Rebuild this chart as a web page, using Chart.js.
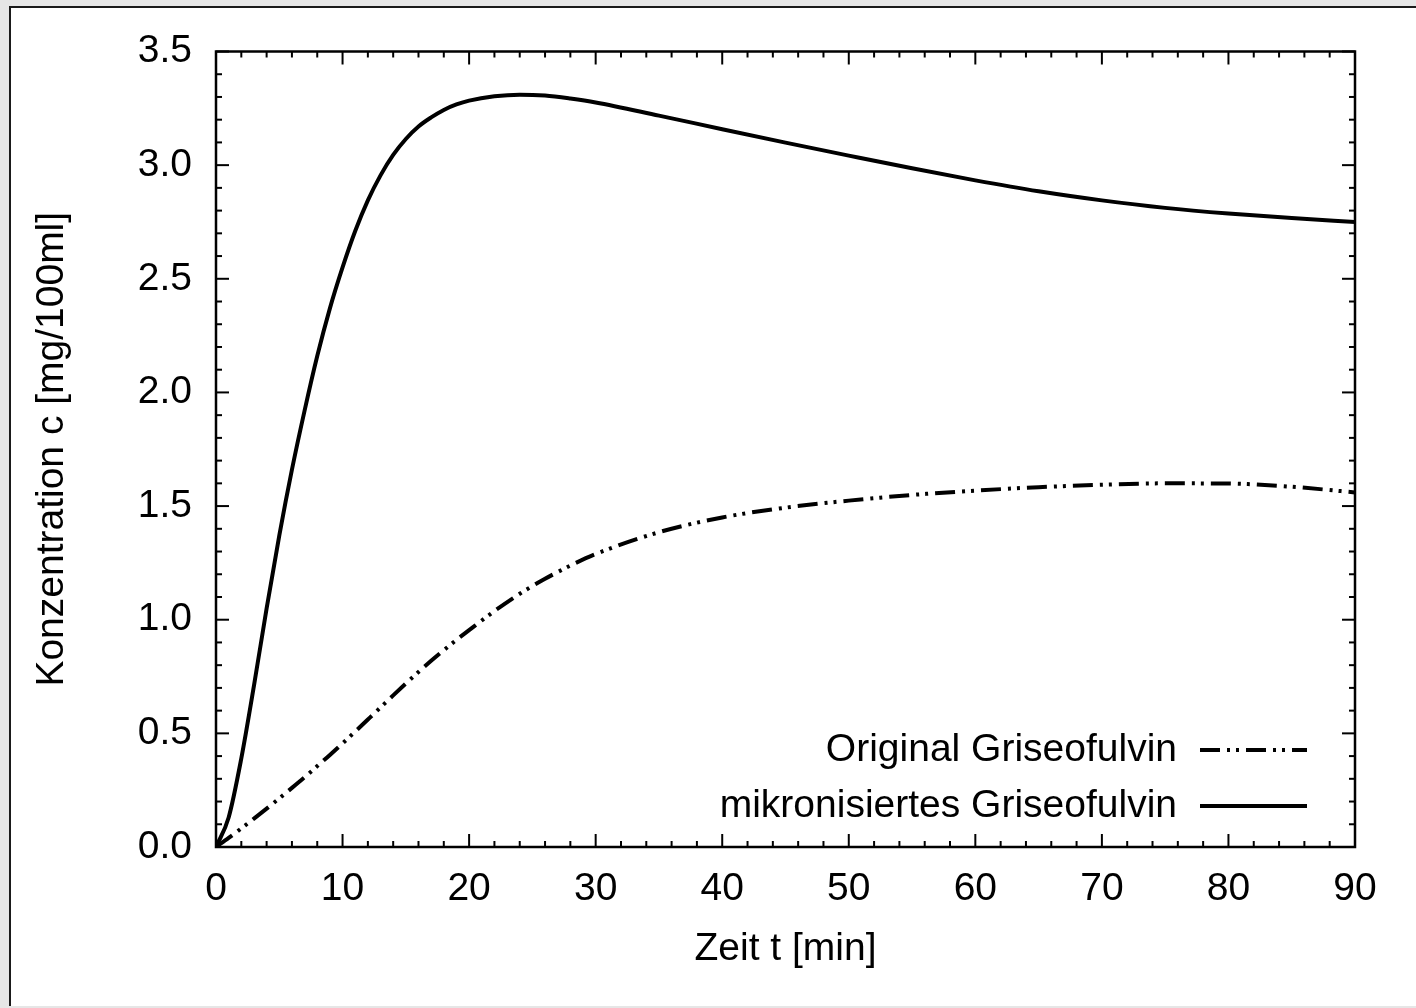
<!DOCTYPE html>
<html>
<head>
<meta charset="utf-8">
<script src="https://cdn.jsdelivr.net/npm/chart.js@4.4.1/dist/chart.umd.min.js"></script>
<style>
  html, body { margin: 0; padding: 0; background: #e6e6e6; width: 1416px; height: 1008px; overflow: hidden; }
  #panel {
    position: absolute; left: 9px; top: 6px; width: 1407px; height: 1000px;
    box-sizing: border-box; background: #fff;
    border-left: 2px solid #1a1a1a; border-top: 2px solid #1a1a1a;
  }
  canvas { display: block; }
</style>
</head>
<body>
<div id="panel"><canvas id="griseoChart" width="1405" height="998"></canvas></div>
<script>
// time axis (min) shared by both curves
const times = [0, 1, 2, 3, 4, 5, 6, 7, 8, 9, 10, 11, 12, 13, 14, 15, 16, 17, 18, 19, 20,
  22, 24, 26, 28, 30, 35, 40, 45, 50, 55, 60, 65, 70, 75, 80, 85, 90];

// concentration c [mg/100ml]
const originalConc = [0, 0.04, 0.082, 0.125, 0.169, 0.214, 0.26, 0.307, 0.356, 0.405, 0.456,
  0.508, 0.561, 0.614, 0.667, 0.719, 0.77, 0.819, 0.866, 0.911, 0.954,
  1.038, 1.114, 1.18, 1.238, 1.289, 1.385, 1.45, 1.493, 1.524, 1.549, 1.568, 1.583, 1.594, 1.6, 1.599, 1.585, 1.56];
const micronizedConc = [0, 0.13, 0.39, 0.71, 1.05, 1.37, 1.66, 1.92, 2.16, 2.37, 2.55,
  2.71, 2.845, 2.955, 3.045, 3.115, 3.17, 3.21, 3.243, 3.267, 3.284,
  3.303, 3.31, 3.306, 3.293, 3.276, 3.218, 3.158, 3.099, 3.042, 2.986, 2.933, 2.885, 2.845, 2.812, 2.787, 2.767, 2.75];

const seriesLabels = ['Original Griseofulvin', 'mikronisiertes Griseofulvin'];
const xTitle = 'Zeit t [min]';
const yTitle = 'Konzentration c [mg/100ml]';

const xMin = 0, xMax = 90, xStep = 10, xMinor = 2;
const yMin = 0, yMax = 3.5, yStep = 0.5, yMinor = 0.1;

const toPoints = vals => vals.map((v, i) => ({ x: times[i], y: v }));

Chart.defaults.font.family = "'Liberation Sans', Arial, Helvetica, sans-serif";
Chart.defaults.font.size = 39;
Chart.defaults.color = '#000';

// gnuplot-like frame with inward ticks, plus the legend in the lower right
const frameAndLegend = {
  id: 'frameAndLegend',
  afterDraw(chart) {
    const { ctx, chartArea: a, scales: { x, y } } = chart;
    ctx.save();
    ctx.strokeStyle = '#000';
    ctx.lineCap = 'butt';
    ctx.lineWidth = 2;
    const seg = (x1, y1, x2, y2) => { ctx.beginPath(); ctx.moveTo(x1, y1); ctx.lineTo(x2, y2); ctx.stroke(); };

    const nx = Math.round((xMax - xMin) / xMinor);
    for (let i = 0; i <= nx; i++) {
      const px = x.getPixelForValue(xMin + i * xMinor);
      const len = i % Math.round(xStep / xMinor) === 0 ? 13 : 6;
      seg(px, a.bottom, px, a.bottom - len);
      seg(px, a.top, px, a.top + len);
    }
    const ny = Math.round((yMax - yMin) / yMinor);
    for (let i = 0; i <= ny; i++) {
      const py = y.getPixelForValue(yMin + i * yMinor);
      const len = i % Math.round(yStep / yMinor) === 0 ? 13 : 6;
      seg(a.left, py, a.left + len, py);
      seg(a.right, py, a.right - len, py);
    }
    ctx.lineWidth = 2.5;
    ctx.strokeRect(a.left, a.top, a.right - a.left, a.bottom - a.top);

    // legend
    ctx.font = "39px 'Liberation Sans', Arial, sans-serif";
    ctx.fillStyle = '#000';
    ctx.textAlign = 'right';
    ctx.textBaseline = 'middle';
    const sampleEnd = a.right - 48, sampleStart = sampleEnd - 107;
    chart.data.datasets.forEach((ds, i) => {
      const ly = a.bottom - 97 + i * 56;
      ctx.fillText(ds.label, sampleStart - 23, ly);
      ctx.lineWidth = ds.borderWidth;
      ctx.setLineDash(ds.borderDash || []);
      seg(sampleStart, ly, sampleEnd, ly);
      ctx.setLineDash([]);
    });
    ctx.restore();
  }
};

const chart = new Chart(document.getElementById('griseoChart'), {
  type: 'line',
  data: {
    datasets: [
      {
        label: seriesLabels[0],
        data: toPoints(originalConc),
        borderColor: '#000',
        borderWidth: 4,
        borderDash: [20, 7, 3, 6, 3, 7],
        pointRadius: 0,
        cubicInterpolationMode: 'monotone',
        fill: false
      },
      {
        label: seriesLabels[1],
        data: toPoints(micronizedConc),
        borderColor: '#000',
        borderWidth: 4,
        pointRadius: 0,
        cubicInterpolationMode: 'monotone',
        fill: false
      }
    ]
  },
  options: {
    responsive: false,
    animation: false,
    layout: { padding: { left: 0, top: 40, right: 61, bottom: 0 } },
    plugins: { legend: { display: false }, tooltip: { enabled: false } },
    scales: {
      x: {
        type: 'linear',
        min: xMin, max: xMax,
        afterFit: s => { s.height = 159; },
        grid: { display: false, drawTicks: false },
        border: { display: false },
        ticks: { stepSize: xStep, padding: 23, font: { size: 39, lineHeight: 1 } },
        title: { display: true, text: xTitle, padding: { top: 0, bottom: 37 }, font: { size: 39, lineHeight: 1 } }
      },
      y: {
        min: yMin, max: yMax,
        afterFit: s => { s.width = 205; },
        grid: { display: false, drawTicks: false },
        border: { display: false },
        ticks: { stepSize: yStep, padding: 24, font: { size: 39, lineHeight: 1 }, callback: v => v.toFixed(1) },
        title: { display: true, text: yTitle, padding: { top: 22, bottom: 0 }, font: { size: 39, lineHeight: 1 } }
      }
    }
  },
  plugins: [frameAndLegend]
});
</script>
</body>
</html>
